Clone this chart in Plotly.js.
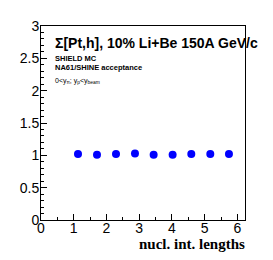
<!DOCTYPE html>
<html>
<head>
<meta charset="utf-8">
<script src="https://cdn.plot.ly/plotly-3.0.1.min.js"></script>
<style>html,body{margin:0;padding:0;background:#fff;}#chart{width:273px;height:260px;}</style>
</head>
<body>
<div id="chart"></div>
<script>
// Data
var nuclIntLengths = [1.13, 1.71, 2.29, 2.87, 3.44, 4.02, 4.59, 5.17, 5.74];
var sigmaPtH = [1.02, 1.01, 1.02, 1.03, 1.01, 1.01, 1.02, 1.02, 1.02];
var yTickVals = [0, 0.5, 1, 1.5, 2, 2.5, 3];
var yTickText = ["0", "0.5", "1", "1.5", "2", "2.5", "3"];
var xTickVals = [0, 1, 2, 3, 4, 5, 6];
var xTickText = ["0", "1", "2", "3", "4", "5", "6"];

var trace = {
  x: nuclIntLengths,
  y: sigmaPtH,
  mode: 'markers',
  type: 'scatter',
  marker: {color: '#0000ff', size: 8, line: {width: 0}},
  cliponaxis: false,
  showlegend: false
};

var tickFont = {family: 'Liberation Sans, Arial, sans-serif', size: 14, color: '#000'};

var layout = {
  width: 273, height: 260,
  margin: {l: 41, r: 28, t: 26, b: 40, pad: 0},
  paper_bgcolor: '#fff', plot_bgcolor: '#fff',
  xaxis: {
    range: [0, 6.23], showgrid: false, zeroline: false,
    showline: true, linecolor: '#000', linewidth: 1, mirror: true,
    ticks: 'inside', ticklen: 6, tickcolor: '#000',
    tickvals: xTickVals, ticktext: xTickText, tickfont: tickFont,
    ticklabelstandoff: -5,
    minor: {dtick: 0.5, ticks: 'inside', ticklen: 3, tickcolor: '#000', showgrid: false}
  },
  yaxis: {
    range: [0, 3], showgrid: false, zeroline: false,
    showline: true, linecolor: '#000', linewidth: 1, mirror: true,
    ticks: 'inside', ticklen: 6, tickcolor: '#000',
    tickvals: yTickVals, ticktext: yTickText, tickfont: tickFont,
    ticklabelstandoff: -2,
    minor: {dtick: 0.1, ticks: 'inside', ticklen: 3, tickcolor: '#000', showgrid: false}
  },
  annotations: [
    {xref: 'paper', yref: 'paper', x: 0.057, y: 0.913, xanchor: 'left', yanchor: 'middle',
     text: 'Σ[Pt,h], 10% Li+Be 150A GeV/c', showarrow: false,
     font: {family: 'Liberation Sans, Arial, sans-serif', size: 14, color: '#000', weight: 'bold'}},
    {xref: 'paper', yref: 'paper', x: 0.057, y: 0.83, xanchor: 'left', yanchor: 'middle',
     text: '<b>SHIELD MC</b>', showarrow: false,
     font: {family: 'Liberation Sans, Arial, sans-serif', size: 7.5, color: '#000'}},
    {xref: 'paper', yref: 'paper', x: 0.057, y: 0.788, xanchor: 'left', yanchor: 'middle',
     text: '<b>NA61/SHINE acceptance</b>', showarrow: false,
     font: {family: 'Liberation Sans, Arial, sans-serif', size: 7.5, color: '#000'}},
    {xref: 'paper', yref: 'paper', x: 0.057, y: 0.717, xanchor: 'left', yanchor: 'middle',
     text: '0&lt;y<sub>π</sub>; y<sub>p</sub>&lt;y<sub>beam</sub>', showarrow: false,
     font: {family: 'Liberation Sans, Arial, sans-serif', size: 7, color: '#000'}},
    {xref: 'paper', yref: 'paper', x: 1.01, y: -0.126, xanchor: 'right', yanchor: 'middle',
     text: '<b>nucl. int. lengths</b>', showarrow: false,
     font: {family: 'Liberation Serif, Times New Roman, serif', size: 15, color: '#000'}}
  ]
};

Plotly.newPlot('chart', [trace], layout, {staticPlot: true, displayModeBar: false});
</script>
</body>
</html>
